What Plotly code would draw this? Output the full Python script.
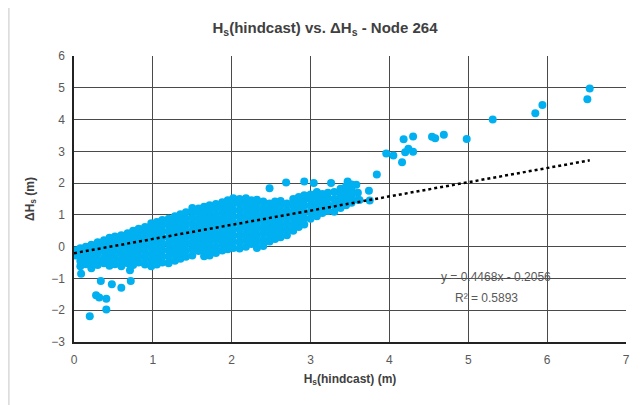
import plotly.graph_objects as go

# ---- data ----
cloud_cols = [0.02, 0.08, 0.15, 0.22, 0.30, 0.38, 0.45, 0.52, 0.60, 0.68, 0.75, 0.82, 0.90, 0.98,
              1.05, 1.12, 1.20, 1.28, 1.35, 1.42, 1.50, 1.58, 1.65, 1.72, 1.80, 1.88, 1.95, 2.02,
              2.10, 2.18, 2.25, 2.32, 2.40, 2.48, 2.55, 2.62, 2.70, 2.78, 2.85, 2.92, 3.00, 3.08,
              3.15, 3.22, 3.30, 3.38, 3.45, 3.52, 3.60]
cloud_vals = [
    [-0.28, -0.12],
    [-0.62, -0.45, -0.25, -0.05],
    [-0.55, -0.38, -0.2, 0.0],
    [-0.68, -0.5, -0.32, -0.12, 0.06],
    [-0.58, -0.4, -0.2, 0.0, 0.14],
    [-0.52, -0.34, -0.14, 0.05, 0.2],
    [-0.6, -0.4, -0.2, 0.0, 0.18, 0.28],
    [-0.55, -0.35, -0.15, 0.05, 0.22, 0.32],
    [-0.62, -0.42, -0.22, -0.02, 0.18, 0.36],
    [-0.52, -0.32, -0.12, 0.08, 0.26, 0.42],
    [-0.58, -0.38, -0.18, 0.02, 0.22, 0.4, 0.5],
    [-0.5, -0.3, -0.1, 0.1, 0.3, 0.48, 0.56],
    [-0.56, -0.36, -0.16, 0.04, 0.24, 0.44, 0.62],
    [-0.62, -0.42, -0.22, -0.02, 0.18, 0.38, 0.56, 0.74],
    [-0.56, -0.36, -0.16, 0.04, 0.24, 0.44, 0.62, 0.78],
    [-0.5, -0.3, -0.1, 0.1, 0.3, 0.5, 0.68, 0.84],
    [-0.52, -0.32, -0.12, 0.08, 0.28, 0.48, 0.68, 0.88],
    [-0.44, -0.24, -0.04, 0.16, 0.36, 0.56, 0.76, 0.96],
    [-0.38, -0.18, 0.02, 0.22, 0.42, 0.62, 0.82, 1.02],
    [-0.32, -0.12, 0.08, 0.28, 0.48, 0.68, 0.88, 1.08],
    [-0.28, -0.08, 0.12, 0.32, 0.52, 0.72, 0.92, 1.12, 1.22],
    [-0.14, 0.06, 0.26, 0.46, 0.66, 0.86, 1.06, 1.2],
    [-0.3, -0.1, 0.1, 0.3, 0.5, 0.7, 0.9, 1.1, 1.26],
    [-0.28, -0.08, 0.12, 0.32, 0.52, 0.72, 0.92, 1.12, 1.3],
    [-0.2, 0.0, 0.2, 0.4, 0.6, 0.8, 1.0, 1.2, 1.34],
    [-0.12, 0.08, 0.28, 0.48, 0.68, 0.88, 1.08, 1.28, 1.4],
    [-0.08, 0.12, 0.32, 0.52, 0.72, 0.92, 1.12, 1.32, 1.46],
    [-0.04, 0.16, 0.36, 0.56, 0.76, 0.96, 1.16, 1.36, 1.52],
    [-0.06, 0.14, 0.34, 0.54, 0.74, 0.94, 1.14, 1.34, 1.5],
    [0.0, 0.2, 0.4, 0.6, 0.8, 1.0, 1.2, 1.4, 1.52],
    [0.08, 0.28, 0.48, 0.68, 0.88, 1.08, 1.28, 1.46],
    [-0.04, 0.16, 0.36, 0.56, 0.76, 0.96, 1.16, 1.36, 1.48],
    [0.02, 0.22, 0.42, 0.62, 0.82, 1.02, 1.22, 1.42],
    [0.16, 0.36, 0.56, 0.76, 0.96, 1.16, 1.36],
    [0.24, 0.44, 0.64, 0.84, 1.04, 1.24, 1.42],
    [0.3, 0.5, 0.7, 0.9, 1.1, 1.3, 1.44],
    [0.36, 0.56, 0.76, 0.96, 1.16, 1.36],
    [0.5, 0.7, 0.9, 1.1, 1.3, 1.5],
    [0.62, 0.82, 1.02, 1.22, 1.42, 1.56],
    [0.7, 0.9, 1.1, 1.3, 1.5, 1.62],
    [0.88, 1.08, 1.28, 1.48, 1.64],
    [0.96, 1.16, 1.36, 1.56, 1.72],
    [1.06, 1.26, 1.46, 1.66],
    [1.12, 1.32, 1.52, 1.7],
    [1.1, 1.3, 1.5, 1.72],
    [1.22, 1.42, 1.62, 1.82],
    [1.3, 1.5, 1.7, 1.9],
    [1.38, 1.58, 1.78, 1.96],
    [1.48, 1.7],
]

outlier_x = [0.09, 0.34, 0.72, 0.71, 0.48, 0.60, 0.28, 0.32, 0.41, 0.41, 0.20,
             2.48, 2.69, 2.92, 3.04, 3.26, 3.47, 3.58, 3.51, 3.74, 3.62, 3.75, 3.84,
             3.96, 4.05, 4.16, 4.20, 4.30, 4.24, 4.18, 4.30, 4.54, 4.58, 4.69, 4.98,
             5.31, 5.85, 5.94, 6.51, 6.54]
outlier_y = [-0.85, -1.08, -1.08, -0.74, -1.18, -1.29, -1.53, -1.60, -1.64, -1.98, -2.19,
             1.84, 2.02, 2.05, 2.00, 2.00, 2.05, 1.95, 1.79, 1.76, 1.47, 1.45, 2.27,
             2.93, 2.87, 2.66, 2.97, 2.99, 3.08, 3.38, 3.47, 3.46, 3.41, 3.52, 3.39,
             4.00, 4.20, 4.46, 4.64, 4.98]

slope = 0.4468
intercept = -0.2056
r_squared = 0.5893
trend_x = [0.0, 6.54]

x_ticks = [0, 1, 2, 3, 4, 5, 6, 7]
y_ticks = [-3, -2, -1, 0, 1, 2, 3, 4, 5, 6]

# ---- build ----
pts_x, pts_y = [], []
for cx, ys in zip(cloud_cols, cloud_vals):
    for yv in ys:
        pts_x.append(cx)
        pts_y.append(yv)
pts_x += outlier_x
pts_y += outlier_y

trend_y = [slope * v + intercept for v in trend_x]

BLUE = "#00B0F0"
FONT = "Liberation Sans, Arial, sans-serif"

fig = go.Figure()
fig.add_trace(go.Scatter(x=pts_x, y=pts_y, mode="markers",
                         marker=dict(color=BLUE, size=8, line=dict(width=0)),
                         showlegend=False, hoverinfo="skip"))
fig.add_trace(go.Scatter(x=trend_x, y=trend_y, mode="lines",
                         line=dict(color="black", width=2.5, dash="dot"),
                         showlegend=False, hoverinfo="skip"))

fig.add_annotation(x=5.35, y=-0.96, xref="x", yref="y", showarrow=False,
                   text=f"y = {slope}x - {abs(intercept)}",
                   font=dict(family=FONT, size=12, color="#595959"))
fig.add_annotation(x=5.23, y=-1.6, xref="x", yref="y", showarrow=False,
                   text=f"R² = {r_squared}",
                   font=dict(family=FONT, size=12, color="#595959"))

# chart outer border (left and top edges visible in the reference)
fig.add_shape(type="rect", xref="paper", yref="paper",
              x0=-0.118, x1=1.1, y0=-0.3, y1=1.178,
              line=dict(color="#d9d9d9", width=1.5), layer="below")

fig.update_layout(
    width=634, height=397,
    margin=dict(l=66, r=13, t=48, b=63),
    paper_bgcolor="white", plot_bgcolor="white",
    font=dict(family=FONT, color="#595959", size=12),
    title=dict(text="<b>H<sub>s</sub>(hindcast) vs. ΔH<sub>s</sub> - Node 264</b>",
               x=0.5, xanchor="center", y=0.95, yanchor="middle",
               font=dict(family=FONT, size=15, color="#404040")),
)
fig.update_xaxes(range=[0, 7], tickvals=x_ticks, showgrid=True, gridcolor="#4a4a4a",
                 gridwidth=1, zeroline=False, showline=True, linecolor="#222", linewidth=1.5,
                 ticks="outside", ticklen=6, tickcolor="rgba(0,0,0,0)",
                 tickfont=dict(size=12, color="#595959"),
                 title=dict(text="<b>H<sub>s</sub>(hindcast) (m)</b>", standoff=8,
                            font=dict(size=12, color="#404040")))
fig.update_yaxes(range=[-3, 6], tickvals=y_ticks, showgrid=True, gridcolor="#4a4a4a",
                 gridwidth=1, zeroline=False, showline=True, linecolor="#222", linewidth=1.5,
                 ticks="outside", ticklen=5, tickcolor="rgba(0,0,0,0)",
                 tickfont=dict(size=12, color="#595959"),
                 title=dict(text="<b>ΔH<sub>s</sub> (m)</b>", standoff=14,
                            font=dict(size=12, color="#404040")))

fig.write_html("out.html")
